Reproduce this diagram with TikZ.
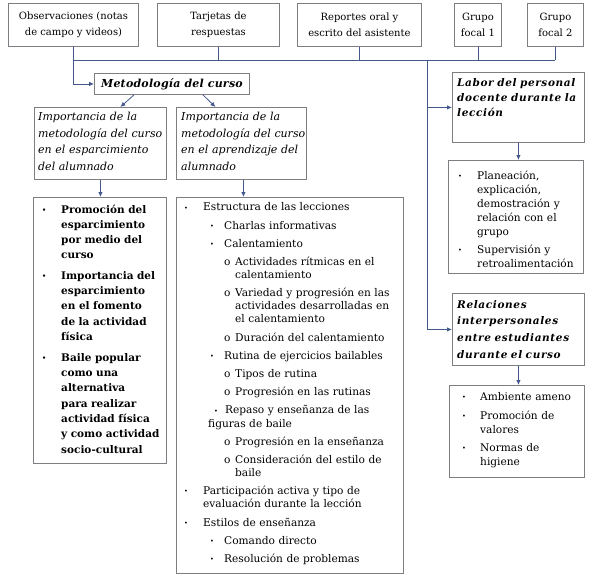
\documentclass[tikz,border=0pt]{standalone}
\usepackage{fontspec}
\setmainfont{DejaVu Serif}
\newfontfamily\spacedfont[LetterSpace=6]{DejaVu Serif}
\newfontfamily\metfont[LetterSpace=2]{DejaVu Serif}
\usetikzlibrary{arrows.meta}
\definecolor{boxgray}{RGB}{125,125,130}
\definecolor{conncol}{RGB}{68,88,140}
\newcommand{\bul}{\raisebox{0.8pt}{\fontsize{6.5}{6.5}\selectfont\textbullet}}
\newcommand{\li}[5]{\par\noindent\hangindent=#3pt\hangafter=1\hspace*{#1pt}\makebox[\dimexpr #2pt-#1pt\relax][l]{#4}#5}
\newcommand{\isep}[1]{\par\vspace{#1pt}}
\begin{document}
\begin{tikzpicture}[x=1pt,y=-1pt,
  box/.style={draw=boxgray,line width=0.9pt,inner sep=0pt,anchor=north west},
  conn/.style={draw=conncol,line width=0.8pt},
  arr/.style={conn,-{Latex[length=5pt,width=4.5pt]}},
  txt/.style={inner sep=0pt,anchor=north west,align=left},
  toptext/.style={align=center,font=\fontsize{10}{16}\selectfont},
  headit/.style={font=\fontsize{11}{16.5}\selectfont\itshape},
  headbi/.style={font=\fontsize{10.5}{16}\selectfont\spacedfont\bfseries\itshape}]
\useasboundingbox (0,0) rectangle (589,576);
\fill[white] (0,0) rectangle (589,576);

% ---- top row of sources
\node[box,toptext,minimum width=130pt,minimum height=43pt] (obs) at (8,3) {Observaciones (notas\\de campo y videos)};
\node[box,toptext,minimum width=122pt,minimum height=43pt] (tarj) at (157,3) {Tarjetas de\\respuestas};
\node[box,toptext,minimum width=124pt,minimum height=43pt] (rep) at (297,3) {Reportes oral y\\escrito del asistente};
\node[box,toptext,minimum width=47pt,minimum height=43pt] (gf1) at (454,3) {Grupo\\focal 1};
\node[box,toptext,minimum width=56pt,minimum height=43pt] (gf2) at (527,3) {Grupo\\focal 2};

% ---- central node
\node[box,font=\fontsize{11}{16}\selectfont\metfont\bfseries\itshape,minimum width=155pt,minimum height=21pt] (met) at (94,73) {Metodología del curso};

% ---- heading boxes
\node[box,minimum width=132pt,minimum height=72pt] (imp1) at (34,107) {};
\node[txt,headit,text width=128pt] (imp1t) at (38,112) {Importancia de la\\metodología del curso\\en el esparcimiento\\del alumnado};
\node[box,minimum width=130pt,minimum height=72pt] (imp2) at (176,107) {};
\node[txt,headit,text width=128pt] (imp2t) at (181,112) {Importancia de la\\metodología del curso\\en el aprendizaje del\\alumnado};
\node[box,minimum width=132pt,minimum height=70pt] (lab) at (452,72) {};
\node[txt,headbi,text width=130pt,font=\fontsize{10.5}{15}\selectfont\spacedfont\bfseries\itshape] (labt) at (457,78) {Labor del personal\\docente durante la\\lección};
\node[box,minimum width=132pt,minimum height=72pt] (rel) at (452,293) {};
\node[txt,headbi,text width=130pt,font=\fontsize{10.5}{16.7}\selectfont\spacedfont\bfseries\itshape] (relt) at (457,300) {Relaciones\\interpersonales\\entre estudiantes\\durante el curso};

% ---- list boxes
\node[box,minimum width=133pt,minimum height=266pt] (l1) at (33,197) {};
\node[txt,text width=133pt,font=\fontsize{10.5}{15.3}\selectfont\bfseries] (l1t) at (33,197.5) {%
\li{9}{28}{28}{\bul}{Promoción del\newline esparcimiento\newline por medio del\newline curso}%
\isep{5}\li{9}{28}{28}{\bul}{Importancia del\newline esparcimiento\newline en el fomento\newline de la actividad\newline física}%
\isep{5.5}\li{9}{28}{28}{\bul}{Baile popular\newline como una\newline alternativa\newline para realizar\newline actividad física\newline y como actividad\newline socio-cultural}\par};

\node[box,minimum width=227pt,minimum height=376pt] (l2) at (176,197) {};
\node[txt,text width=227pt,font=\fontsize{10.6}{13.1}\selectfont] (l2t) at (176,197.5) {%
\li{8}{27}{27}{\bul}{Estructura de las lecciones}%
\isep{5.1}\li{34}{48}{48}{\bul}{Charlas informativas}%
\isep{5.1}\li{34}{48}{48}{\bul}{Calentamiento}%
\isep{5.1}\li{48}{59}{59}{o}{Actividades rítmicas en el\newline calentamiento}%
\isep{5.1}\li{48}{59}{59}{o}{Variedad y progresión en las\newline actividades desarrolladas en\newline el calentamiento}%
\isep{5.1}\li{48}{59}{59}{o}{Duración del calentamiento}%
\isep{5.1}\li{34}{48}{48}{\bul}{Rutina de ejercicios bailables}%
\isep{5.1}\li{48}{59}{59}{o}{Tipos de rutina}%
\isep{5.1}\li{48}{59}{59}{o}{Progresión en las rutinas}%
\isep{5.1}\li{38}{49}{32}{\bul}{Repaso y enseñanza de las\newline figuras de baile}%
\isep{5.1}\li{48}{59}{59}{o}{Progresión en la enseñanza}%
\isep{5.1}\li{48}{59}{59}{o}{Consideración del estilo de\newline baile}%
\isep{5.1}\li{8}{27}{27}{\bul}{Participación activa y tipo de\newline evaluación durante la lección}%
\isep{5.1}\li{8}{27}{27}{\bul}{Estilos de enseñanza}%
\isep{5.1}\li{34}{48}{48}{\bul}{Comando directo}%
\isep{5.1}\li{34}{48}{48}{\bul}{Resolución de problemas}\par};

\node[box,minimum width=135pt,minimum height=113pt] (l3) at (448,160) {};
\node[txt,text width=135pt,font=\fontsize{10.6}{14}\selectfont] (l3t) at (448,165.5) {%
\li{10}{29}{29}{\bul}{Planeación,\newline explicación,\newline demostración y\newline relación con el\newline grupo}%
\isep{4}\li{10}{29}{29}{\bul}{Supervisión y\newline retroalimentación}\par};

\node[box,minimum width=135pt,minimum height=92pt] (l4) at (449,385) {};
\node[txt,text width=135pt,font=\fontsize{10.6}{14}\selectfont] (l4t) at (449,386) {%
\li{13}{31}{31}{\bul}{Ambiente ameno}%
\isep{5}\li{13}{31}{31}{\bul}{Promoción de\newline valores}%
\isep{4}\li{13}{31}{31}{\bul}{Normas de\newline higiene}\par};

% ---- connectors
\coordinate (bus) at (0,60);
\coordinate (vx) at (427,60);
\draw[conn] (obs.south |- bus) -- (gf2.south |- bus);
\draw[conn] (tarj.south) -- (tarj.south |- bus);
\draw[conn] (rep.south) -- (rep.south |- bus);
\draw[conn] (gf1.south) -- (gf1.south |- bus);
\draw[conn] (gf2.south) -- (gf2.south |- bus);
\draw[arr] (obs.south) |- (met.west);
\draw[arr] (vx) |- (lab.west);
\draw[arr] (vx) |- (rel.west);
\draw[arr] ([xshift=-38pt]met.south) -- ([xshift=20pt]imp1.north);
\draw[arr] ([xshift=31pt]met.south) -- ([xshift=-26pt]imp2.north);
\draw[arr] (imp1.south) -- (imp1.south |- l1.north);
\draw[arr] ([xshift=2pt]imp2.south) -- ([xshift=2pt]imp2.south |- l2.north);
\draw[arr] (lab.south) -- (lab.south |- l3.north);
\draw[arr] (rel.south) -- (rel.south |- l4.north);
\end{tikzpicture}
\end{document}
